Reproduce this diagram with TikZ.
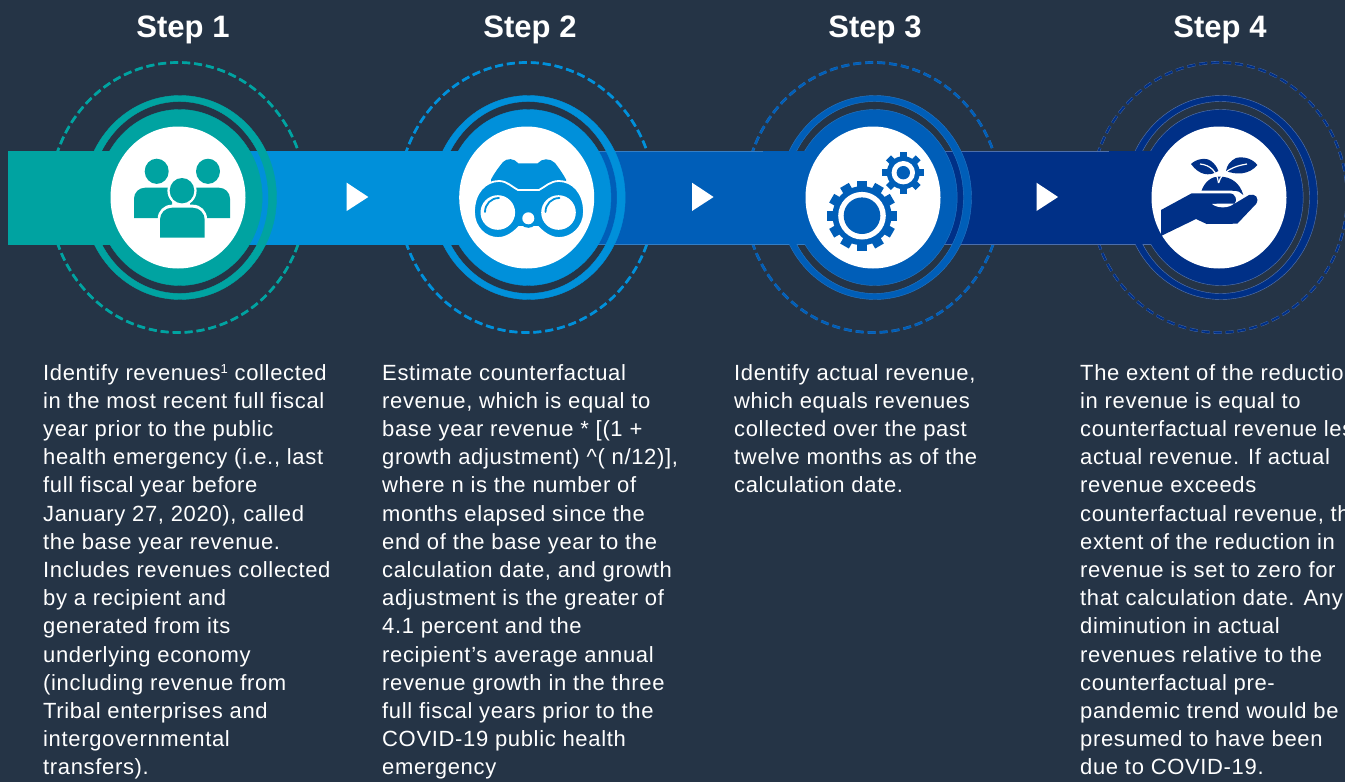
\documentclass[tikz,border=0pt]{standalone}
\usepackage{fontspec}
\setmainfont[LetterSpace=3]{Liberation Sans}
\newfontfamily\titlefont{Liberation Sans}
\definecolor{pagebg}{HTML}{253446}
\definecolor{tealc}{HTML}{00A3A1}
\definecolor{bluea}{HTML}{0090DA}
\definecolor{blueb}{HTML}{005EB8}
\definecolor{bluec}{HTML}{003087}
\begin{document}
\begin{tikzpicture}[x=1pt, y=-1pt,
       steptitle/.style={text=white, inner sep=0pt, font=\titlefont\fontsize{31}{34}\bfseries\selectfont},
       steptext/.style={text=white, inner sep=0pt, anchor=north west, align=left,
             font=\fontsize{22}{28.2}\selectfont},
       band/.style={fill=#1, draw=#1, line width=.5pt},
       halo/.style={draw=#1, dash pattern=on 8pt off 4pt},
       cutline/.style={draw=white, line width=#1}]
\useasboundingbox (0,0) rectangle (1345,782);
\fill[pagebg] (0,0) rectangle (1345,782);
\clip (0,0) rectangle (1345,782);
\foreach \cx/\col/\edge in {178/tealc/tealc, 526.7/bluea/bluea, 873/blueb/blueb!85!white, 1219/bluec/bluec!65!white} {
    \draw[halo=\edge, line width=2.7pt] (\cx,197.5) ellipse [x radius=128, y radius=135];
    \draw[halo=\col, line width=2.1pt] (\cx,197.5) ellipse [x radius=128, y radius=135];
}
\draw[band=tealc] (8,151) rectangle (178,244.5);
\draw[band=bluea] (178,151) rectangle (526.7,244.5);
\draw[band=blueb, draw=blueb!80!white] (526.7,151) rectangle (873,244.5);
\draw[band=bluec, draw=bluec!70!white] (873,151) rectangle (1219,244.5);
\foreach \cx/\col/\edge in {178/tealc/tealc, 526.7/bluea/bluea, 873/blueb/blueb!85!white, 1219/bluec/bluec!65!white} {
    \filldraw[fill=\col, draw=\edge, line width=.4pt, even odd rule] (\cx+2,197.5) ellipse [x radius=96.5, y radius=102]
        (\cx+1.5,197.5) ellipse [x radius=89, y radius=96];
    \filldraw[fill=\col, draw=\edge, line width=.4pt] (\cx+1.7,197.5) ellipse [x radius=82.5, y radius=88];
    \fill[\col] (\cx-110,151.3) rectangle (\cx,244.2);
    \fill[white] (\cx,197.5) ellipse [x radius=67.5, y radius=71];
}
\foreach \ax in {346.7, 692, 1036.5}
    \fill[white] (\ax,182.7) -- (\ax+21.6,197) -- (\ax,211) -- cycle;
% people
\fill[tealc] (156.7,171.3) ellipse [x radius=12, y radius=12.6];
\fill[tealc] (208,171.3) ellipse [x radius=12, y radius=12.6];
\fill[tealc] (134,218) [rounded corners=11pt] -- (134,187.7) [sharp corners] -- (172,187.7) -- (172,218) -- cycle;
\fill[tealc] (190,187.7) [rounded corners=11pt] -- (230,187.7) [sharp corners] -- (230,218) -- (190,218) -- cycle;
\fill[white] (182,190.7) ellipse [x radius=14.6, y radius=15];
\fill[tealc] (182,190.7) ellipse [x radius=12.3, y radius=12.7];
\fill[white] (157.7,238) [rounded corners=14pt] -- (157.7,204.7) -- (207,204.7) [sharp corners] -- (207,238) -- cycle;
\fill[tealc] (160,237.7) [rounded corners=12pt] -- (160,207.7) -- (204.7,207.7) [sharp corners] -- (204.7,237.7) -- cycle;
% binoculars
\fill[bluea] (491,179.5) .. controls (495,172) and (499,167) .. (503,162) .. controls (507,158) and (514,158) .. (518.3,163.3)
    -- (537.7,163.3) .. controls (542,158) and (550,158) .. (555,163) .. controls (559,168) and (563,174) .. (566,179.5) -- (566,190) -- (491,190) -- cycle;
\draw[fill=bluea, cutline=1.8pt] (474,212) .. controls (474,192) and (486,181) .. (499,181)
    .. controls (507,181) and (512,187) .. (518,190) -- (539,190)
    .. controls (545,187) and (550,181) .. (559,181)
    .. controls (572,181) and (584,192) .. (584,212)
    .. controls (584,227) and (572,238) .. (559,238)
    .. controls (550,238) and (543,232) .. (538,227)
    -- (519,227) .. controls (514,232) and (507,238) .. (498,238)
    .. controls (485,238) and (474,227) .. (474,212) -- cycle;
\fill[bluea] (528.3,218.3) circle (9.5);
\fill[white] (528.3,218.3) circle (6);
\fill[white] (497.8,212.5) circle (17.3);
\fill[white] (558.5,212.5) circle (17.3);
\draw[bluea, line width=1.8pt, line cap=round] (485,212) .. controls (485,204) and (491,198) .. (499,198);
\draw[bluea, line width=1.8pt, line cap=round] (545.5,212) .. controls (545.5,204) and (551.5,198) .. (559.5,198);
% gears
\foreach \a in {0,30,...,330}
    \fill[blueb, shift={(862,215.7)}, rotate=\a] (-5,0) rectangle (5,-35);
\fill[blueb] (862,215.7) circle (29.5);
\fill[white] (862,215.7) circle (23.8);
\fill[blueb] (862,215.7) circle (18.3);
\foreach \a in {0,45,...,315}
    \fill[blueb, shift={(903.3,172.7)}, rotate=\a] (-3.5,0) rectangle (3.5,-21);
\fill[blueb] (903.3,172.7) circle (16.5);
\fill[white] (903.3,172.7) circle (11.7);
\fill[blueb] (903.3,172.7) circle (6.7);
% hand and sprout
\fill[bluec] (1161,210) -- (1191.7,193.3) -- (1229.3,193.3) .. controls (1236,193.3) and (1238,201) .. (1234,204)
    -- (1249,195) .. controls (1255,193) and (1260,198) .. (1256,204)
    -- (1237.3,223.7) -- (1206.7,224) -- (1196,219) -- (1161,236) -- cycle;
\fill[white] (1212,204) .. controls (1219,203.5) and (1226,203.5) .. (1234,203.5) .. controls (1230,208) and (1218,209) .. (1212,204) -- cycle;
\fill[bluec] (1201.5,190.7) .. controls (1205,181) and (1212,176.5) .. (1219,176.5)
    .. controls (1231,176.5) and (1240,183) .. (1243.3,195) .. controls (1241,192) and (1238,190.7) .. (1232,190.7) -- cycle;
\fill[bluec] (1191,164) .. controls (1196,159) and (1206,157) .. (1211,161) .. controls (1215,164) and (1217,167) .. (1218.3,171)
    .. controls (1209,177) and (1199,175) .. (1191,164) -- cycle;
\fill[bluec] (1257.3,165) .. controls (1253,159) and (1244,156) .. (1236,158) .. controls (1230,161) and (1227,165) .. (1226,171)
    .. controls (1236,175) and (1249,175) .. (1257.3,165) -- cycle;
\draw[cutline=1.2pt] (1200,164) .. controls (1210,165) and (1217,171) .. (1218.5,183);
\draw[cutline=1.2pt] (1247,164) .. controls (1234,166) and (1222,171) .. (1218.5,183);
\node[steptitle] (title1) at (183,30) {Step 1};
\node[steptitle] (title2) at (530,30) {Step 2};
\node[steptitle] (title3) at (875,30) {Step 3};
\node[steptitle] (title4) at (1220,30) {Step 4};
\node[steptext] (text1) at (43,364) {Identify revenues\smash{\raisebox{7pt}{\fontsize{13}{13}\selectfont 1}} collected\\
in the most recent full fiscal\\
year prior to the public\\
health emergency (i.e., last\\
full fiscal year before\\
January 27, 2020), called\\
the base year revenue.\\
Includes revenues collected\\
by a recipient and\\
generated from its\\
underlying economy\\
(including revenue from\\
Tribal enterprises and\\
intergovernmental\\
transfers).};
\node[steptext] (text2) at (382,364) {Estimate counterfactual\\
revenue, which is equal to\\
base year revenue * [(1 +\\
growth adjustment) \^{}( n/12)],\\
where n is the number of\\
months elapsed since the\\
end of the base year to the\\
calculation date, and growth\\
adjustment is the greater of\\
4.1 percent and the\\
recipient’s average annual\\
revenue growth in the three\\
full fiscal years prior to the\\
COVID-19 public health\\
emergency};
\node[steptext] (text3) at (734,364) {Identify actual revenue,\\
which equals revenues\\
collected over the past\\
twelve months as of the\\
calculation date.};
\node[steptext] (text4) at (1080,364) {The extent of the reduction\\
in revenue is equal to\\
counterfactual revenue less\\
actual revenue. If actual\\
revenue exceeds\\
counterfactual revenue, the\\
extent of the reduction in\\
revenue is set to zero for\\
that calculation date. Any\\
diminution in actual\\
revenues relative to the\\
counterfactual pre-\\
pandemic trend would be\\
presumed to have been\\
due to COVID-19.};
\end{tikzpicture}
\end{document}
